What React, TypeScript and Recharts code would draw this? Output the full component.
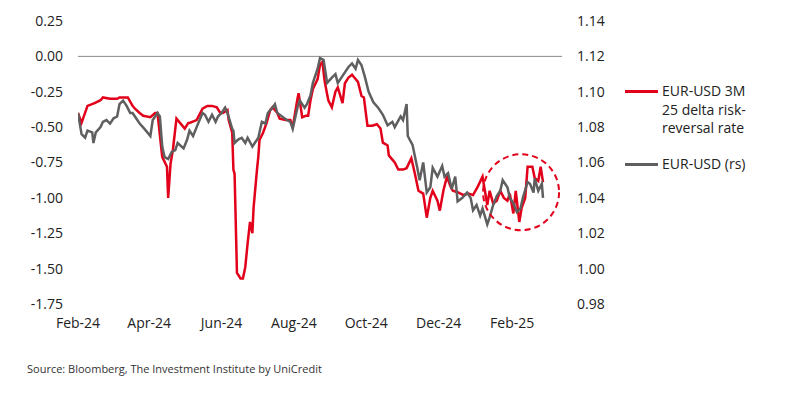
import React from "react";
import {
  LineChart,
  Line,
  XAxis,
  YAxis,
  ReferenceLine,
  ReferenceDot,
} from "recharts";

// x values are days counted from 1 Feb 2024
const rrDays = [
  0, 3, 8, 14, 19, 21, 27, 33, 35, 42, 46, 48, 52, 55, 61, 65, 67, 71, 75, 76,
  78, 80, 83, 86, 90, 93, 94, 100, 105, 109, 113, 117, 120, 122, 126, 127, 130,
  131, 132, 134, 137, 139, 141, 143, 145, 147, 148, 151, 152, 153, 156, 159,
  162, 164, 168, 170, 175, 179, 181, 185, 186, 189, 192, 194, 196, 198, 202,
  204, 206, 208, 211, 214, 217, 219, 223, 225, 228, 231, 234, 236, 239, 241,
  244, 248, 252, 255, 257, 261, 262, 265, 267, 270, 274, 277, 281, 284, 287,
  291, 294, 297, 299, 303, 305, 308, 311, 314, 316, 320, 325, 329, 333, 337,
  341, 343, 345, 347, 350, 353, 356, 359, 362, 364, 367, 369, 372, 374, 377,
  379, 383, 385, 388, 390, 392,
];
const rrValues = [
  -0.4, -0.47, -0.35, -0.33, -0.31, -0.29, -0.3, -0.3, -0.29, -0.29, -0.35,
  -0.37, -0.4, -0.42, -0.43, -0.4, -0.4, -0.71, -0.78, -1.0, -0.76, -0.66,
  -0.44, -0.47, -0.51, -0.47, -0.47, -0.45, -0.37, -0.35, -0.35, -0.36, -0.4,
  -0.4, -0.38, -0.45, -0.54, -0.8, -0.83, -1.53, -1.57, -1.57, -1.49, -1.32,
  -1.17, -1.25, -1.07, -0.79, -0.71, -0.59, -0.54, -0.47, -0.38, -0.36, -0.4,
  -0.44, -0.45, -0.45, -0.5, -0.3, -0.26, -0.43, -0.42, -0.42, -0.31, -0.23,
  -0.16, -0.06, -0.04, -0.18, -0.31, -0.36, -0.25, -0.22, -0.33, -0.19, -0.15,
  -0.13, -0.16, -0.18, -0.28, -0.29, -0.49, -0.49, -0.48, -0.51, -0.61, -0.63,
  -0.7, -0.73, -0.75, -0.8, -0.8, -0.79, -0.72, -0.83, -0.95, -0.97, -1.14,
  -1.0, -0.95, -1.02, -1.09, -0.95, -0.85, -0.92, -0.95, -0.96, -0.98, -0.97,
  -0.98, -0.92, -0.85, -0.95, -1.05, -0.95, -1.04, -1.02, -0.95, -1.0, -1.02,
  -0.97, -1.11, -0.95, -1.17, -1.07, -1.0, -0.78, -0.78, -0.86, -0.88, -0.78,
  -0.89,
];

const fxDays = [
  0, 3, 6, 8, 12, 13, 15, 19, 21, 24, 27, 30, 33, 35, 38, 41, 44, 46, 50, 52,
  56, 61, 63, 67, 69, 71, 73, 76, 79, 82, 84, 89, 92, 94, 97, 100, 105, 107,
  110, 113, 116, 118, 121, 124, 126, 130, 131, 132, 135, 138, 141, 143, 147,
  149, 152, 155, 158, 160, 164, 166, 168, 172, 176, 179, 181, 185, 187, 191,
  193, 196, 198, 202, 204, 207, 210, 214, 217, 219, 223, 228, 231, 234, 236,
  239, 242, 245, 249, 253, 257, 261, 265, 267, 272, 274, 277, 278, 282, 286,
  288, 291, 294, 297, 299, 303, 307, 309, 312, 315, 318, 320, 324, 328, 331,
  333, 336, 339, 341, 345, 347, 350, 353, 356, 358, 362, 364, 367, 370, 373,
  375, 379, 381, 384, 385, 388, 391, 392,
];
const fxValues = [
  1.088, 1.076, 1.074, 1.078, 1.077, 1.071, 1.077, 1.08, 1.083, 1.084, 1.082,
  1.085, 1.086, 1.093, 1.095, 1.092, 1.088, 1.088, 1.084, 1.082, 1.079, 1.075,
  1.084, 1.088, 1.086, 1.069, 1.063, 1.062, 1.066, 1.067, 1.071, 1.068, 1.073,
  1.078, 1.075, 1.08, 1.088, 1.087, 1.083, 1.087, 1.083, 1.086, 1.088, 1.091,
  1.088, 1.079, 1.078, 1.071, 1.073, 1.074, 1.071, 1.074, 1.069, 1.071, 1.074,
  1.083, 1.082, 1.088, 1.091, 1.093, 1.088, 1.086, 1.084, 1.083, 1.079, 1.091,
  1.095, 1.091, 1.093, 1.098, 1.105, 1.113, 1.119, 1.118, 1.105, 1.108, 1.11,
  1.105, 1.109, 1.114, 1.116, 1.113, 1.118, 1.115, 1.108, 1.1, 1.094, 1.091,
  1.087, 1.081, 1.083, 1.08, 1.086, 1.084, 1.093, 1.075, 1.07, 1.057, 1.05,
  1.06, 1.043, 1.046, 1.057, 1.052, 1.058, 1.052, 1.054, 1.045, 1.052, 1.038,
  1.04, 1.043, 1.04, 1.033, 1.036, 1.03, 1.034, 1.025, 1.029, 1.036, 1.041,
  1.044, 1.05, 1.046, 1.04, 1.037, 1.032, 1.034, 1.04, 1.049, 1.048, 1.043,
  1.051, 1.044, 1.048, 1.04,
];

const monthTicks = [0, 60, 121, 182, 243, 304, 366];
const monthLabels = ["Feb-24", "Apr-24", "Jun-24", "Aug-24", "Oct-24", "Dec-24", "Feb-25"];
const leftTicks = [-1.75, -1.5, -1.25, -1, -0.75, -0.5, -0.25, 0, 0.25];
const rightTicks = [0.98, 1.0, 1.02, 1.04, 1.06, 1.08, 1.1, 1.12, 1.14];

const rrData = rrDays.map((d, i) => ({ day: d, v: rrValues[i] }));
const fxData = fxDays.map((d, i) => ({ day: d, v: fxValues[i] }));

const RED = "#e2001a";
const GREY = "#5f5f5f";
const FONT = "'Open Sans', sans-serif";
const tickStyle = { fontSize: 14, fill: "#222", fontFamily: FONT };

export default function App() {
  return (
    <div
      style={{
        position: "absolute",
        left: 0,
        top: 0,
        width: 809,
        height: 409,
        background: "#fff",
        fontFamily: FONT,
      }}
    >
      <LineChart
        width={809}
        height={340}
        margin={{ top: 21, right: 187, bottom: 6, left: 0 }}
      >
        <XAxis
          dataKey="day"
          type="number"
          domain={[0, 408]}
          ticks={monthTicks}
          tickFormatter={(v) => monthLabels[monthTicks.indexOf(v)]}
          axisLine={false}
          tickLine={false}
          tickSize={0}
          tickMargin={14}
          height={30}
          tick={tickStyle}
          allowDataOverflow
        />
        <YAxis
          yAxisId="left"
          domain={[-1.75, 0.25]}
          ticks={leftTicks}
          tickFormatter={(v) => v.toFixed(2)}
          axisLine={false}
          tickLine={false}
          tickSize={0}
          tickMargin={15}
          width={78}
          tick={tickStyle}
          interval={0}
        />
        <YAxis
          yAxisId="right"
          orientation="right"
          domain={[0.98, 1.14]}
          ticks={rightTicks}
          tickFormatter={(v) => v.toFixed(2)}
          axisLine={false}
          tickLine={false}
          tickSize={0}
          tickMargin={15}
          width={60}
          tick={tickStyle}
          interval={0}
        />
        <ReferenceLine yAxisId="left" y={0} stroke="#8a8a8a" strokeWidth={1} />
        <Line
          yAxisId="left"
          data={rrData}
          dataKey="v"
          type="linear"
          stroke={RED}
          strokeWidth={2.5}
          dot={false}
          isAnimationActive={false}
        />
        <Line
          yAxisId="right"
          data={fxData}
          dataKey="v"
          type="linear"
          stroke={GREY}
          strokeWidth={2.5}
          dot={false}
          isAnimationActive={false}
        />
        <ReferenceDot
          yAxisId="left"
          x={373.5}
          y={-0.96}
          r={38}
          fill="none"
          stroke={RED}
          strokeWidth={2}
          strokeDasharray="6 4"
        />
      </LineChart>

      {/* legend */}
      <div style={{ position: "absolute", left: 625, top: 82, fontSize: 14, color: "#222", lineHeight: "18.5px" }}>
        <div style={{ display: "flex", alignItems: "flex-start" }}>
          <div style={{ width: 33, height: 3, background: RED, marginTop: 8, marginRight: 4 }} />
          <div>
            EUR-USD 3M
            <br />
            25 delta risk-
            <br />
            reversal rate
          </div>
        </div>
        <div style={{ display: "flex", alignItems: "flex-start", marginTop: 17 }}>
          <div style={{ width: 33, height: 3, background: GREY, marginTop: 8, marginRight: 4 }} />
          <div>EUR-USD (rs)</div>
        </div>
      </div>

      <div style={{ position: "absolute", left: 27, top: 361, fontSize: 11, color: "#333" }}>
        Source: Bloomberg, The Investment Institute by UniCredit
      </div>
    </div>
  );
}
